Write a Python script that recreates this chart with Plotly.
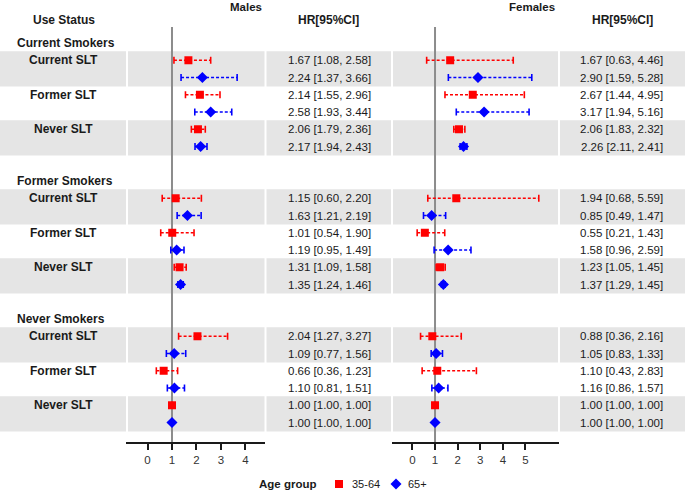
import plotly.graph_objects as go

# ---------------- data ----------------
smoking_groups = ["Current Smokers", "Former Smokers", "Never Smokers"]
slt_status = ["Current SLT", "Former SLT", "Never SLT"]
age_groups = ["35-64", "65+"]

# order: for each smoking group, for each SLT status: (35-64, 65+)
male_hr = [1.67, 2.24, 2.14, 2.58, 2.06, 2.17,
           1.15, 1.63, 1.01, 1.19, 1.31, 1.35,
           2.04, 1.09, 0.66, 1.10, 1.00, 1.00]
male_lo = [1.08, 1.37, 1.55, 1.93, 1.79, 1.94,
           0.60, 1.21, 0.54, 0.95, 1.09, 1.24,
           1.27, 0.77, 0.36, 0.81, 1.00, 1.00]
male_hi = [2.58, 3.66, 2.96, 3.44, 2.36, 2.43,
           2.20, 2.19, 1.90, 1.49, 1.58, 1.46,
           3.27, 1.56, 1.23, 1.51, 1.00, 1.00]

female_hr = [1.67, 2.90, 2.67, 3.17, 2.06, 2.26,
             1.94, 0.85, 0.55, 1.58, 1.23, 1.37,
             0.88, 1.05, 1.10, 1.16, 1.00, 1.00]
female_lo = [0.63, 1.59, 1.44, 1.94, 1.83, 2.11,
             0.68, 0.49, 0.21, 0.96, 1.05, 1.29,
             0.36, 0.83, 0.43, 0.86, 1.00, 1.00]
female_hi = [4.46, 5.28, 4.95, 5.16, 2.32, 2.41,
             5.59, 1.47, 1.43, 2.59, 1.45, 1.45,
             2.16, 1.33, 2.83, 1.57, 1.00, 1.00]

male_ticks = [0, 1, 2, 3, 4]
female_ticks = [0, 1, 2, 3, 4, 5]

# ---------------- layout helpers ----------------
W, H = 685, 491
FONT = "Liberation Sans, Arial, sans-serif"
RED = "#ff0000"
BLUE = "#0000ff"
GREY_BAND = "#e5e5e5"
TXT = "#1a1a1a"

def px(x):
    return x / W

# row index for each data entry
rows = []
for g in range(len(smoking_groups)):
    for s in range(len(slt_status)):
        for a in range(len(age_groups)):
            rows.append(8 * g + 1 + 2 * s + a)

ages = [age_groups[i % 2] for i in range(len(rows))]

fig = go.Figure()

shapes = []
# grey bands (Current SLT and Never SLT blocks)
for g in range(len(smoking_groups)):
    for s in (0, 2):
        r0 = 8 * g + 1 + 2 * s
        shapes.append(dict(type="rect", xref="paper", yref="y",
                           x0=0, x1=1, y0=r0 - 0.52, y1=r0 + 1.52,
                           fillcolor=GREY_BAND, line=dict(width=0), layer="below"))
# white column separators
for xs in (127, 265.5, 392, 559):
    shapes.append(dict(type="line", xref="paper", yref="paper",
                       x0=px(xs), x1=px(xs), y0=0.1, y1=0.95,
                       line=dict(color="white", width=2), layer="below"))

axis_pos = 1 - 442.7 / H
y_axis_row = (442.7 - 43) / 17.25

def add_panel(hr, lo, hi, xa):
    # reference line at HR = 1
    fig.add_trace(go.Scatter(x=[1, 1], y=[-0.93, y_axis_row], mode="lines",
                             line=dict(color="#8c8c8c", width=2),
                             xaxis=xa, yaxis="y", showlegend=False, hoverinfo="skip"))
    for ag, col, sym, size in [("35-64", RED, "square", 8), ("65+", BLUE, "diamond", 8.5)]:
        idx = [i for i in range(len(rows)) if ages[i] == ag]
        lx, ly = [], []
        for i in idx:
            lx += [lo[i], hi[i], None]
            ly += [rows[i], rows[i], None]
        fig.add_trace(go.Scatter(x=lx, y=ly, mode="lines",
                                 line=dict(color=col, width=1.5, dash="3px,2px"),
                                 xaxis=xa, yaxis="y", showlegend=False, hoverinfo="skip"))
        cx = [lo[i] for i in idx] + [hi[i] for i in idx]
        cy = [rows[i] for i in idx] * 2
        fig.add_trace(go.Scatter(x=cx, y=cy, mode="markers",
                                 marker=dict(symbol="line-ns", size=5,
                                             line=dict(color=col, width=1.6)),
                                 xaxis=xa, yaxis="y", showlegend=False, hoverinfo="skip"))
        fig.add_trace(go.Scatter(x=[hr[i] for i in idx], y=[rows[i] for i in idx],
                                 mode="markers", name=ag,
                                 marker=dict(symbol=sym, size=size, color=col),
                                 xaxis=xa, yaxis="y", showlegend=False))

add_panel(male_hr, male_lo, male_hi, "x")
add_panel(female_hr, female_lo, female_hi, "x2")

# manual legend keys on an auxiliary pixel-like axis
legend_keys_x = [339, 396]
legend_keys_y = [484, 484]
for k, (col, sym, size) in enumerate([(RED, "square", 8), (BLUE, "diamond", 8.5)]):
    fig.add_trace(go.Scatter(x=[legend_keys_x[k]], y=[legend_keys_y[k]], mode="markers",
                             marker=dict(symbol=sym, size=size, color=col),
                             xaxis="x3", yaxis="y2", showlegend=False, hoverinfo="skip"))

annotations = []
def txt(x, y, t, bold=False, size=11, anchor="center", yref="y"):
    annotations.append(dict(x=px(x), xref="paper", y=y, yref=yref,
                            text=f"<b>{t}</b>" if bold else t,
                            showarrow=False, xanchor=anchor, yanchor="middle",
                            font=dict(family=FONT, size=size, color=TXT)))

BS = 12
txt(246, -2.08, "Males", bold=True, size=11.5)
txt(531.5, -2.08, "Females", bold=True, size=11.5)
txt(63.5, -1.36, "Use Status", bold=True, size=BS)
txt(328, -1.36, "HR[95%CI]", bold=True, size=BS)
txt(622, -1.36, "HR[95%CI]", bold=True, size=BS)

for g, name in enumerate(smoking_groups):
    txt(15, 8 * g, name, bold=True, size=BS, anchor="left")
    for s, st in enumerate(slt_status):
        txt(63.5, 8 * g + 1 + 2 * s, st, bold=True, size=BS)

for i, r in enumerate(rows):
    txt(329, r, f"{male_hr[i]:.2f} [{male_lo[i]:.2f}, {male_hi[i]:.2f}]", size=11.5)
    txt(621.5, r, f"{female_hr[i]:.2f} [{female_lo[i]:.2f}, {female_hi[i]:.2f}]", size=11.5)

# legend texts
ly_paper = 1 - 484 / H
txt(257, ly_paper, "Age group", bold=True, size=11.5, anchor="left", yref="paper")
txt(350, ly_paper, age_groups[0], size=11, anchor="left", yref="paper")
txt(406, ly_paper, age_groups[1], size=11, anchor="left", yref="paper")

xaxis_common = dict(anchor="free", position=axis_pos, showgrid=False, zeroline=False,
                    showline=True, linecolor=TXT, linewidth=2,
                    ticks="outside", ticklen=6, tickwidth=1.5, tickcolor=TXT,
                    tickfont=dict(family=FONT, size=11.5, color="#333333"))

fig.update_layout(
    width=W, height=H,
    margin=dict(l=0, r=0, t=0, b=0, pad=0, autoexpand=False),
    paper_bgcolor="white", plot_bgcolor="rgba(0,0,0,0)",
    xaxis=dict(domain=[px(126), px(265.3)], range=[-0.878, 4.81],
               tickvals=male_ticks, **xaxis_common),
    xaxis2=dict(domain=[px(391.7), px(558.7)], range=[-0.916, 6.47],
                tickvals=female_ticks, **xaxis_common),
    xaxis3=dict(domain=[0, 1], range=[0, W], visible=False, anchor="y2"),
    yaxis=dict(range=[25.97, -2.493], visible=False, domain=[0, 1]),
    yaxis2=dict(domain=[0, 1], range=[H, 0], visible=False, anchor="x3"),
    shapes=shapes,
    annotations=annotations,
    showlegend=False,
    font=dict(family=FONT),
)

fig.write_html("out.html", config={"displayModeBar": False},
               post_script="document.body.style.margin='0px';document.body.style.overflow='hidden';")
